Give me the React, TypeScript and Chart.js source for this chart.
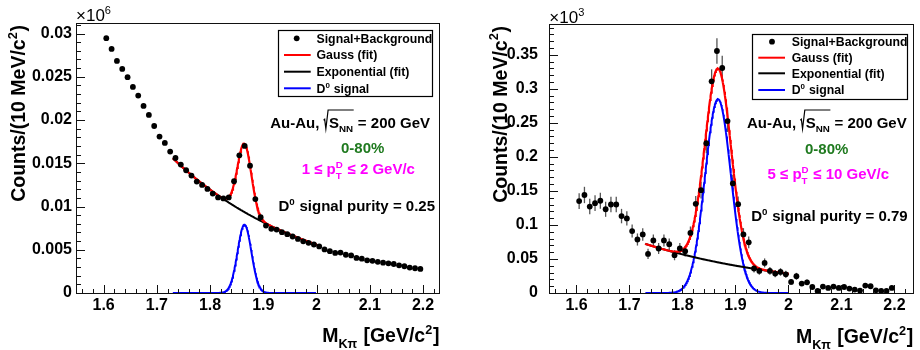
import { useEffect, useRef } from "react";
import { Chart, registerables } from "chart.js";

Chart.register(...registerables);

const FONT = '"Liberation Sans", Arial, Helvetica, sans-serif';

// ---------------- data ----------------
const massBins = [
  1.605, 1.615, 1.625, 1.635, 1.645, 1.655, 1.665, 1.675, 1.685, 1.695,
  1.705, 1.715, 1.725, 1.735, 1.745, 1.755, 1.765, 1.775, 1.785, 1.795,
  1.805, 1.815, 1.825, 1.835, 1.845, 1.855, 1.865, 1.875, 1.885, 1.895,
  1.905, 1.915, 1.925, 1.935, 1.945, 1.955, 1.965, 1.975, 1.985, 1.995,
  2.005, 2.015, 2.025, 2.035, 2.045, 2.055, 2.065, 2.075, 2.085, 2.095,
  2.105, 2.115, 2.125, 2.135, 2.145, 2.155, 2.165, 2.175, 2.185, 2.195,
];

// 1 <= pT <= 2 GeV/c (units of 10^6 counts)
const countsLowPt = [
  0.02946, 0.02822, 0.02683, 0.02591, 0.02495, 0.02382, 0.02283, 0.02163, 0.02059, 0.01931,
  0.01809, 0.01735, 0.01635, 0.01561, 0.01485, 0.01419, 0.01358, 0.01288, 0.01249, 0.01203,
  0.0115, 0.01105, 0.01093, 0.01105, 0.01292, 0.01592, 0.017, 0.01472, 0.01086, 0.00877,
  0.0078, 0.00742, 0.00733, 0.00703, 0.0068, 0.00653, 0.00625, 0.00598, 0.0058, 0.00561,
  0.00538, 0.00504, 0.00484, 0.00463, 0.00467, 0.00442, 0.00434, 0.00405, 0.00397, 0.00378,
  0.00372, 0.00361, 0.00351, 0.00343, 0.00335, 0.0032, 0.00309, 0.00294, 0.00286, 0.00278,
];

// 5 <= pT <= 10 GeV/c (units of 10^3 counts)
const countsHighPt = [
  0.135, 0.144, 0.127, 0.132, 0.1355, 0.123, 0.13, 0.13, 0.113, 0.1095,
  0.091, 0.0786, 0.086, 0.0574, 0.0772, 0.0654, 0.0772, 0.0717, 0.0555, 0.0654,
  0.0614, 0.0883, 0.131, 0.151, 0.22, 0.311, 0.3555, 0.3305, 0.2525, 0.161,
  0.1305, 0.086, 0.0745, 0.036, 0.0324, 0.0442, 0.0324, 0.0286, 0.0309, 0.0275,
  0.0162, 0.0246, 0.0138, 0.0157, 0.0088, 0.003, 0.0094, 0.0074, 0.0094, 0.0074,
  0.0088, 0.0065, 0.005, 0.0035, 0.0109, 0.0099, 0.004, 0.003, 0.003, 0.0074,
];

const errorsHighPt = [
  0.0116, 0.012, 0.0113, 0.0115, 0.0116, 0.0111, 0.0114, 0.0114, 0.0106, 0.0105,
  0.0095, 0.0089, 0.0093, 0.0076, 0.0088, 0.0081, 0.0088, 0.0085, 0.0074, 0.0081,
  0.0078, 0.0094, 0.0114, 0.0123, 0.0148, 0.0176, 0.0188, 0.0182, 0.0159, 0.0127,
  0.0114, 0.0093, 0.0086, 0.006, 0.0057, 0.0066, 0.0057, 0.0053, 0.0056, 0.0052,
  0.004, 0.005, 0.0037, 0.004, 0.003, 0.0017, 0.0031, 0.0027, 0.0031, 0.0027,
  0.003, 0.0025, 0.0022, 0.0019, 0.0033, 0.0031, 0.002, 0.0017, 0.0017, 0.0027,
];

const xTickValues = [1.6, 1.7, 1.8, 1.9, 2.0, 2.1, 2.2];
const xTickLabels = ["1.6", "1.7", "1.8", "1.9", "2", "2.1", "2.2"];
const yTickValuesLow = [0, 0.005, 0.01, 0.015, 0.02, 0.025, 0.03];
const yTickLabelsLow = ["0", "0.005", "0.01", "0.015", "0.02", "0.025", "0.03"];
const yTickValuesHigh = [0, 0.05, 0.1, 0.15, 0.2, 0.25, 0.3, 0.35];
const yTickLabelsHigh = ["0", "0.05", "0.1", "0.15", "0.2", "0.25", "0.3", "0.35"];

// fit parameters (Gauss + exponential)
const fitLowPt = { bkgAmp: 0.01558, bkgSlope: -3.79, sigAmp: 0.0079, mean: 1.8645, sigma: 0.013, from: 1.73, to: 2.0 };
const fitHighPt = { bkgAmp: 0.0722, bkgSlope: -3.44, sigAmp: 0.2847, mean: 1.867, sigma: 0.0245, from: 1.73, to: 2.0 };

const ptLabelLow = ["1", "2"];
const ptLabelHigh = ["5", "10"];
const purityLow = "0.25";
const purityHigh = "0.79";

// ---------------- helpers ----------------
type Fit = typeof fitLowPt;
function sampleFit(f: Fit, part: "total" | "bkg" | "sig") {
  const pts: { x: number; y: number }[] = [];
  const n = 270;
  for (let i = 0; i <= n; i++) {
    const x = f.from + ((f.to - f.from) * i) / n;
    const b = f.bkgAmp * Math.exp(f.bkgSlope * (x - f.from));
    const s = f.sigAmp * Math.exp(-0.5 * ((x - f.mean) / f.sigma) ** 2);
    pts.push({ x, y: part === "total" ? b + s : part === "bkg" ? b : s });
  }
  return pts;
}

type Seg = { t?: string; sup?: string; sub?: string; rad?: boolean; over?: boolean };

function drawRich(
  ctx: CanvasRenderingContext2D,
  segs: Seg[],
  x: number,
  y: number,
  align: "left" | "center" | "right",
  size: number,
  color: string,
  weight = "bold"
) {
  const f = (s: number) => `${weight} ${s}px ${FONT}`;
  const sc = 0.65;
  ctx.save();
  ctx.textAlign = "left";
  ctx.textBaseline = "alphabetic";
  ctx.fillStyle = color;
  ctx.strokeStyle = color;
  const widths = segs.map((seg) => {
    if (seg.rad) return size * 0.36;
    if (seg.t !== undefined) {
      ctx.font = f(size);
      return ctx.measureText(seg.t).width;
    }
    ctx.font = f(size * sc);
    return Math.max(seg.sup ? ctx.measureText(seg.sup).width : 0, seg.sub ? ctx.measureText(seg.sub).width : 0) + size * 0.04;
  });
  const total = widths.reduce((a, b) => a + b, 0);
  let cx = align === "left" ? x : align === "center" ? x - total / 2 : x - total;
  let radX: number | null = null;
  let overEnd = 0;
  segs.forEach((seg, i) => {
    if (seg.rad) {
      radX = cx;
    } else if (seg.t !== undefined) {
      ctx.font = f(size);
      ctx.fillText(seg.t, cx, y);
    } else {
      ctx.font = f(size * sc);
      if (seg.sup) ctx.fillText(seg.sup, cx, y - size * 0.42);
      if (seg.sub) ctx.fillText(seg.sub, cx, y + size * 0.3);
    }
    if (seg.over) overEnd = cx + widths[i];
    cx += widths[i];
  });
  if (radX !== null) {
    const e = size;
    const rx: number = radX;
    ctx.lineWidth = 1.2;
    ctx.beginPath();
    ctx.moveTo(rx + 0.0 * e, y - 0.5 * e);
    ctx.lineTo(rx + 0.07 * e, y - 0.56 * e);
    ctx.lineTo(rx + 0.15 * e, y + 0.08 * e);
    ctx.lineTo(rx + 0.3 * e, y - 1.18 * e);
    ctx.lineTo(overEnd, y - 1.18 * e);
    ctx.stroke();
  }
  ctx.restore();
  return total;
}

type Layout = {
  area: { left: number; top: number; right: number; bottom: number };
  xMax: number;
  yMax: number;
  yMinor: number;
  yMajor: number;
  yTitleX: number;
  yTitleEnd: number;
  yLabelPad: number;
  expX: number;
  expY: number;
  exponent: string;
  xTitleRight: number;
  xTitleY: number;
  legend: { l: number; t: number; r: number; b: number; lineL: number; lineR: number; dotX: number; textX: number; rows: number[] };
  auRight: number;
  auY: number;
  centX: number;
  centY: number;
  ptX: number;
  ptY: number;
  purRight: number;
  purY: number;
};

type Panel = {
  counts: number[];
  errors: number[] | null;
  fit: Fit;
  yTicks: number[];
  yTickLabels: string[];
  pt: string[];
  purity: string;
  layout: Layout;
};

const lowPanel: Panel = {
  counts: countsLowPt,
  errors: null,
  fit: fitLowPt,
  yTicks: yTickValuesLow,
  yTickLabels: yTickLabelsLow,
  pt: ptLabelLow,
  purity: purityLow,
  layout: {
    area: { left: 77, top: 24, right: 439, bottom: 293 },
    xMax: 2.23,
    yMax: 0.0311,
    yMinor: 0.001,
    yMajor: 0.005,
    yTitleX: 25,
    yTitleEnd: 25,
    yLabelPad: 5,
    expX: 76,
    expY: 21,
    exponent: "6",
    xTitleRight: 439.5,
    xTitleY: 341.7,
    legend: { l: 277.7, t: 30, r: 432, b: 96, lineL: 284, lineR: 310.7, dotX: 296.7, textX: 316.5, rows: [38.3, 55, 71.7, 88.3] },
    auRight: 430,
    auY: 127.7,
    centX: 362.7,
    centY: 152.7,
    ptX: 358.3,
    ptY: 174.3,
    purRight: 435,
    purY: 211,
  },
};

const highPanel: Panel = {
  counts: countsHighPt,
  errors: errorsHighPt,
  fit: fitHighPt,
  yTicks: yTickValuesHigh,
  yTickLabels: yTickLabelsHigh,
  pt: ptLabelHigh,
  purity: purityHigh,
  layout: {
    area: { left: 90, top: 25, right: 453, bottom: 293 },
    xMax: 2.235,
    yMax: 0.3937,
    yMinor: 0.01,
    yMajor: 0.05,
    yTitleX: 46.5,
    yTitleEnd: 26,
    yLabelPad: 12,
    expX: 89.3,
    expY: 23.3,
    exponent: "3",
    xTitleRight: 453.3,
    xTitleY: 342.7,
    legend: { l: 292, t: 33.5, r: 446.7, b: 98.3, lineL: 298.3, lineR: 325, dotX: 312, textX: 331.7, rows: [41.7, 57.7, 73.3, 90] },
    auRight: 446.7,
    auY: 127.7,
    centX: 366.7,
    centY: 154.3,
    ptX: 368.3,
    ptY: 179.3,
    purRight: 447.7,
    purY: 221,
  },
};

const isMult = (v: number, step: number) => Math.abs(v / step - Math.round(v / step)) < 1e-6;

function makeConfig(p: Panel): any {
  const L = p.layout;
  const pointsData = massBins.map((x, i) => ({ x, y: p.counts[i] }));

  const errorBars = {
    id: "errorBars",
    beforeDatasetsDraw(chart: any) {
      if (!p.errors) return;
      const { ctx, scales } = chart;
      ctx.save();
      ctx.strokeStyle = "#555";
      ctx.lineWidth = 1.3;
      massBins.forEach((x, i) => {
        const px = scales.x.getPixelForValue(x);
        const y1 = scales.y.getPixelForValue(p.counts[i] - p.errors![i]);
        const y2 = scales.y.getPixelForValue(p.counts[i] + p.errors![i]);
        ctx.beginPath();
        ctx.moveTo(px, Math.min(y1, scales.y.bottom));
        ctx.lineTo(px, y2);
        ctx.stroke();
      });
      ctx.restore();
    },
  };

  const frameTicks = {
    id: "frameTicks",
    afterDraw(chart: any) {
      const { ctx, chartArea: a, scales } = chart;
      ctx.save();
      ctx.strokeStyle = "#111";
      ctx.lineWidth = 1;
      ctx.strokeRect(a.left - 0.5, a.top - 0.5, a.right - a.left + 1, a.bottom - a.top + 1);
      ctx.beginPath();
      for (let v = 1.56; v <= L.xMax + 1e-9; v += 0.02) {
        const px = Math.round(scales.x.getPixelForValue(v)) + 0.5;
        const len = isMult(v, 0.1) ? 8 : 4;
        ctx.moveTo(px, a.bottom);
        ctx.lineTo(px, a.bottom - len);
      }
      const nY = Math.floor(L.yMax / L.yMinor + 1e-6);
      for (let k = 1; k <= nY; k++) {
        const v = k * L.yMinor;
        const py = Math.round(scales.y.getPixelForValue(v)) + 0.5;
        const len = isMult(v, L.yMajor) ? 8 : 4;
        ctx.moveTo(a.left, py);
        ctx.lineTo(a.left + len, py);
      }
      ctx.stroke();
      ctx.restore();
    },
  };

  const texts = {
    id: "texts",
    afterDraw(chart: any) {
      const ctx: CanvasRenderingContext2D = chart.ctx;
      // y title
      ctx.save();
      ctx.translate(L.yTitleX, L.yTitleEnd);
      ctx.rotate(-Math.PI / 2);
      drawRich(ctx, [{ t: "Counts/(10 MeV/c" }, { sup: "2" }, { t: ")" }], 0, 0, "right", 19.5, "#000");
      ctx.restore();
      // exponent
      drawRich(ctx, [{ t: "\u00d710" }, { sup: L.exponent }], L.expX, L.expY, "left", 17, "#000", "normal");
      // x title
      drawRich(ctx, [{ t: "M" }, { sub: "K\u03c0" }, { t: " [GeV/c" }, { sup: "2" }, { t: "]" }], L.xTitleRight, L.xTitleY, "right", 19.5, "#000");
      // legend
      const lg = L.legend;
      ctx.save();
      ctx.fillStyle = "#fff";
      ctx.fillRect(lg.l, lg.t, lg.r - lg.l, lg.b - lg.t);
      ctx.strokeStyle = "#000";
      ctx.lineWidth = 1.2;
      ctx.strokeRect(Math.round(lg.l) + 0.5, Math.round(lg.t) + 0.5, Math.round(lg.r - lg.l), Math.round(lg.b - lg.t));
      ctx.fillStyle = "#000";
      ctx.beginPath();
      ctx.arc(lg.dotX, lg.rows[0], 2.9, 0, Math.PI * 2);
      ctx.fill();
      const lineColors = ["#ff0000", "#000000", "#0000ff"];
      lineColors.forEach((c, i) => {
        ctx.strokeStyle = c;
        ctx.lineWidth = 2;
        ctx.beginPath();
        ctx.moveTo(lg.lineL, lg.rows[i + 1]);
        ctx.lineTo(lg.lineR, lg.rows[i + 1]);
        ctx.stroke();
      });
      ctx.restore();
      const ls = 12.3;
      const lOff = ls * 0.36;
      drawRich(ctx, [{ t: "Signal+Background" }], lg.textX, lg.rows[0] + lOff, "left", ls, "#000");
      drawRich(ctx, [{ t: "Gauss (fit)" }], lg.textX, lg.rows[1] + lOff, "left", ls, "#000");
      drawRich(ctx, [{ t: "Exponential (fit)" }], lg.textX, lg.rows[2] + lOff, "left", ls, "#000");
      drawRich(ctx, [{ t: "D" }, { sup: "0" }, { t: " signal" }], lg.textX, lg.rows[3] + lOff, "left", ls, "#000");
      // annotations
      const as = 15;
      drawRich(
        ctx,
        [{ t: "Au-Au, " }, { rad: true }, { t: "S", over: true }, { sub: "NN", over: true }, { t: " = 200 GeV" }],
        L.auRight,
        L.auY,
        "right",
        as,
        "#000"
      );
      drawRich(ctx, [{ t: "0-80%" }], L.centX, L.centY, "center", as, "#1f7a1f");
      drawRich(
        ctx,
        [{ t: `${p.pt[0]} \u2264 p` }, { sup: "D", sub: "T" }, { t: ` \u2264 ${p.pt[1]} GeV/c` }],
        L.ptX,
        L.ptY,
        "center",
        as,
        "#ff00ff"
      );
      drawRich(ctx, [{ t: "D" }, { sup: "0" }, { t: ` signal purity = ${p.purity}` }], L.purRight, L.purY, "right", as, "#000");
    },
  };

  const tickFont = { family: FONT, size: 16, weight: "bold" as const };

  return {
    type: "scatter",
    data: {
      datasets: [
        {
          label: "Signal+Background",
          data: pointsData,
          showLine: false,
          pointRadius: 2.9,
          pointBackgroundColor: "#000",
          pointBorderWidth: 0,
        },
        {
          label: "Gauss (fit)",
          data: sampleFit(p.fit, "total"),
          showLine: true,
          pointRadius: 0,
          borderColor: "#ff0000",
          borderWidth: 2.2,
        },
        {
          label: "Exponential (fit)",
          data: sampleFit(p.fit, "bkg"),
          showLine: true,
          pointRadius: 0,
          borderColor: "#000000",
          borderWidth: 2,
        },
        {
          label: "D0 signal",
          data: sampleFit(p.fit, "sig"),
          showLine: true,
          pointRadius: 0,
          borderColor: "#0000ff",
          borderWidth: 2,
        },
      ],
    },
    options: {
      animation: false,
      responsive: false,
      devicePixelRatio: 1,
      events: [],
      layout: { padding: { top: L.area.top, right: 460 - L.area.right, left: 0, bottom: 0 } },
      plugins: { legend: { display: false }, tooltip: { enabled: false }, title: { display: false } },
      scales: {
        x: {
          type: "linear",
          min: 1.55,
          max: L.xMax,
          grid: { display: false, drawTicks: false },
          border: { display: false },
          afterBuildTicks: (s: any) => {
            s.ticks = xTickValues.map((v) => ({ value: v }));
          },
          afterFit: (s: any) => {
            s.height = 350 - L.area.bottom;
          },
          ticks: {
            autoSkip: false,
            maxRotation: 0,
            padding: 3,
            color: "#000",
            font: tickFont,
            callback: (_v: any, i: number) => xTickLabels[i],
          },
        },
        y: {
          type: "linear",
          min: 0,
          max: L.yMax,
          grid: { display: false, drawTicks: false },
          border: { display: false },
          afterBuildTicks: (s: any) => {
            s.ticks = p.yTicks.map((v) => ({ value: v }));
          },
          afterFit: (s: any) => {
            s.width = L.area.left;
          },
          ticks: {
            autoSkip: false,
            padding: L.yLabelPad,
            color: "#000",
            font: tickFont,
            callback: (_v: any, i: number) => p.yTickLabels[i],
          },
        },
      },
    },
    plugins: [errorBars, frameTicks, texts],
  };
}

function PanelChart({ panel, offsetX }: { panel: Panel; offsetX: number }) {
  const ref = useRef<HTMLCanvasElement>(null);
  useEffect(() => {
    if (!ref.current) return;
    const chart = new Chart(ref.current, makeConfig(panel));
    return () => chart.destroy();
  }, [panel]);
  return (
    <canvas
      ref={ref}
      width={460}
      height={350}
      style={{ position: "absolute", left: offsetX, top: 0, width: 460, height: 350, display: "block" }}
    />
  );
}

export default function App() {
  return (
    <div style={{ position: "absolute", left: 0, top: 0, width: 920, height: 350, background: "#fff", overflow: "hidden" }}>
      <PanelChart panel={lowPanel} offsetX={0} />
      <PanelChart panel={highPanel} offsetX={460} />
    </div>
  );
}
